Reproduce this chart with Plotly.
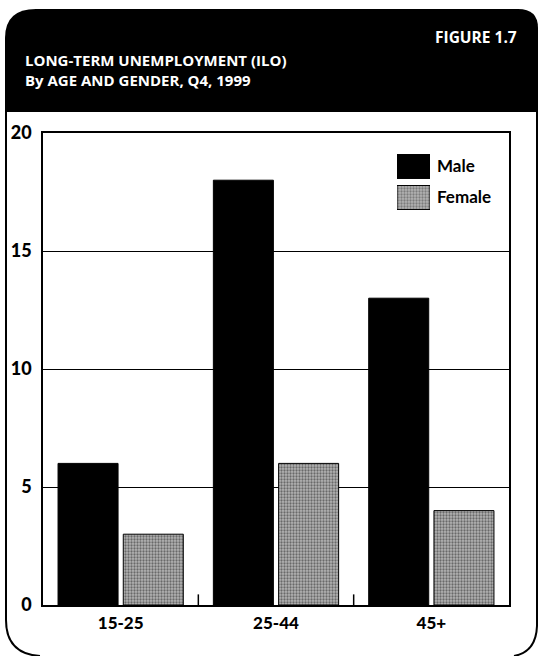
import plotly.graph_objects as go

# Long-term unemployment (ILO), Q4 1999, thousands
age_groups = ["15-25", "25-44", "45+"]
male = [6, 18, 13]
female = [3, 6, 4]
y_ticks = [0, 5, 10, 15, 20]
legend_labels = ["Male", "Female"]

W, H = 538, 656
# plot area in pixels
L, R, T, B = 43, 509, 133, 605


def fx(px):
    return (px - L) / (R - L)


def fy(py):
    return (B - py) / (B - T)


FONT = "Lato"
TITLE_FONT = "Open Sans"
stipple = dict(shape=".", fgcolor="#1e1e1e", bgcolor="#b4b4b4", size=3, solidity=0.45)

fig = go.Figure()
fig.add_trace(go.Bar(
    x=age_groups, y=male, name="Male",
    marker=dict(color="black", line=dict(color="black", width=1)),
    showlegend=False,
))
fig.add_trace(go.Bar(
    x=age_groups, y=female, name="Female",
    marker=dict(color="#b4b4b4", pattern=stipple,
                line=dict(color="black", width=1)),
    showlegend=False,
))

# legend swatches drawn as a small inset bar chart
fig.add_trace(go.Bar(
    y=legend_labels[::-1], x=[1, 1], orientation="h",
    xaxis="x2", yaxis="y2", showlegend=False, hoverinfo="skip",
    marker=dict(color=["#b4b4b4", "black"],
                pattern=dict(shape=[".", ""], fgcolor="#1e1e1e", bgcolor="#b4b4b4",
                             size=3, solidity=0.45),
                line=dict(color="black", width=1)),
))

# header band with rounded top corners
header = (f"M {fx(5)},{fy(112)} L {fx(5)},{fy(38)} Q {fx(5)},{fy(9)} {fx(36)},{fy(9)} "
          f"L {fx(518)},{fy(9)} Q {fx(538)},{fy(9)} {fx(538)},{fy(28)} L {fx(538)},{fy(112)} Z")
frame_left = f"M {fx(6)},{fy(112)} L {fx(6)},{fy(620)} Q {fx(6)},{fy(654)} {fx(40)},{fy(656)}"
frame_right = f"M {fx(537)},{fy(112)} L {fx(537)},{fy(626)} Q {fx(536)},{fy(652)} {fx(514)},{fy(656)}"

shapes = [
    dict(type="path", path=header, xref="paper", yref="paper",
         fillcolor="black", line=dict(color="black", width=0), layer="below"),
    dict(type="path", path=frame_left, xref="paper", yref="paper",
         line=dict(color="black", width=2)),
    dict(type="path", path=frame_right, xref="paper", yref="paper",
         line=dict(color="black", width=2)),
]
# small tick marks between the age groups
for boundary in [0.5, 1.5]:
    shapes.append(dict(type="line", xref="x", yref="y", x0=boundary, x1=boundary,
                       y0=0, y1=0.45, line=dict(color="black", width=1.5)))

title_font = dict(family=TITLE_FONT, size=15, color="white", weight="bold")
annotations = [
    dict(text="FIGURE 1.7", xref="paper", yref="paper", x=fx(519), y=fy(37),
         xanchor="right", yanchor="middle", showarrow=False,
         font=dict(family=TITLE_FONT, size=15.5, color="white", weight="bold")),
    dict(text="LONG-TERM UNEMPLOYMENT (ILO)<br>By AGE AND GENDER, Q4, 1999",
         xref="paper", yref="paper", x=fx(23), y=fy(70), align="left",
         xanchor="left", yanchor="middle", showarrow=False, font=title_font),
]

fig.update_layout(
    width=W, height=H,
    margin=dict(l=L, r=W - R, t=T, b=H - B, pad=0, autoexpand=False),
    paper_bgcolor="white", plot_bgcolor="white",
    barmode="group", bargap=0.16, bargroupgap=0.08,
    showlegend=False,
    shapes=shapes, annotations=annotations,
    xaxis=dict(
        automargin=False,
        showline=True, linecolor="black", linewidth=1.5, mirror=True,
        ticks="", showgrid=False,
        tickfont=dict(family=FONT, size=17, color="black", weight=900),
        ticklabelstandoff=2,
    ),
    yaxis=dict(
        automargin=False,
        range=[0, 20], tickvals=y_ticks, ticktext=[str(v) for v in y_ticks],
        showline=True, linecolor="black", linewidth=1.5, mirror=True,
        showgrid=True, gridcolor="black", gridwidth=1.2, zeroline=False,
        ticks="",
        tickfont=dict(family=FONT, size=18, color="black", weight=900),
        ticklabelstandoff=6,
    ),
    xaxis2=dict(domain=[fx(397), fx(430)], anchor="y2", range=[0, 1],
                visible=False, fixedrange=True, automargin=False),
    yaxis2=dict(domain=[fy(213), fy(151)], anchor="x2", side="right",
                automargin=False,
                showline=False, showgrid=False, zeroline=False, ticks="",
                tickfont=dict(family=FONT, size=17, color="black", weight="bold"),
                ticklabelstandoff=6),
)

fig.write_html("out.html")
